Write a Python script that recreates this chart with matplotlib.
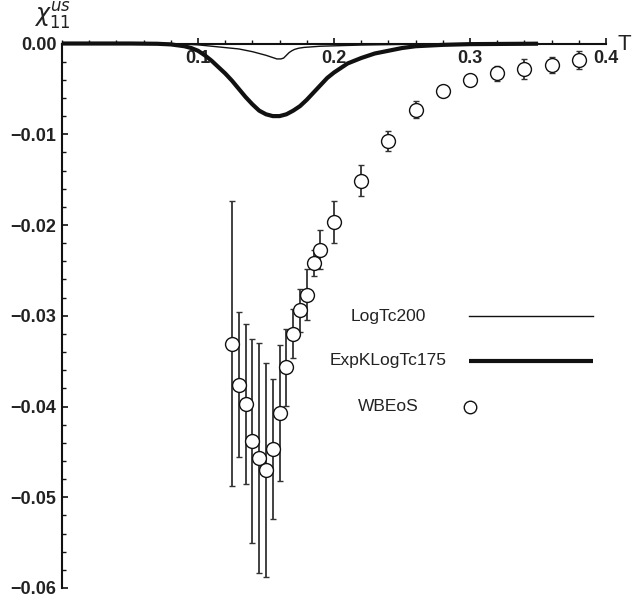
import matplotlib
matplotlib.use("Agg")
import matplotlib.pyplot as plt
from matplotlib.ticker import MultipleLocator, FixedLocator

# ---- data ----
T_log200 = [0.0, 0.08, 0.10, 0.11, 0.12, 0.13, 0.14, 0.145, 0.15, 0.155, 0.158,
            0.161, 0.163, 0.165, 0.167, 0.169, 0.171, 0.174, 0.178, 0.19, 0.22,
            0.25, 0.30, 0.35]
chi_log200 = [0.0, 0.0, -0.00015, -0.0003, -0.00045, -0.0006, -0.0009, -0.0011,
              -0.0013, -0.00155, -0.0017, -0.0017, -0.0016, -0.0013, -0.0010,
              -0.0008, -0.00065, -0.00052, -0.00043, -0.0003, -0.00017, -0.0001,
              -0.00003, 0.0]

T_expk175 = [0.0, 0.05, 0.07, 0.08, 0.09, 0.095, 0.10, 0.105, 0.11, 0.115, 0.12,
             0.125, 0.13, 0.135, 0.14, 0.145, 0.15, 0.155, 0.16, 0.165, 0.17,
             0.175, 0.18, 0.185, 0.19, 0.195, 0.20, 0.21, 0.22, 0.23, 0.24, 0.25,
             0.26, 0.28, 0.30, 0.35]
chi_expk175 = [0.0, 0.0, -0.00003, -0.0001, -0.0003, -0.0005, -0.0008, -0.0013,
               -0.0019, -0.0026, -0.0033, -0.0041, -0.0050, -0.0059, -0.0067,
               -0.0074, -0.0078, -0.0080, -0.0080, -0.0078, -0.0074, -0.0069,
               -0.0062, -0.0054, -0.0046, -0.0038, -0.0032, -0.0022, -0.0016,
               -0.0011, -0.0008, -0.0005, -0.0003, -0.00015, -0.00007, -0.00002]

T_wb = [0.125, 0.130, 0.135, 0.140, 0.145, 0.150, 0.155, 0.160, 0.165, 0.170,
        0.175, 0.180, 0.185, 0.190, 0.200, 0.220, 0.240, 0.260, 0.280, 0.300,
        0.320, 0.340, 0.360, 0.380]
chi_wb = [-0.0331, -0.0376, -0.0397, -0.0438, -0.0457, -0.0470, -0.0447, -0.0407,
          -0.0357, -0.0320, -0.0294, -0.0277, -0.0242, -0.0227, -0.0197, -0.0151,
          -0.0107, -0.0073, -0.0052, -0.0040, -0.0033, -0.0028, -0.0024, -0.0018]
err_wb = [0.0157, 0.0080, 0.0088, 0.0112, 0.0127, 0.0118, 0.0077, 0.0075,
          0.0042, 0.0027, 0.0024, 0.0028, 0.0014, 0.0021, 0.0023, 0.0017,
          0.0011, 0.00095, 0.0004, 0.0005, 0.0008, 0.0011, 0.0009, 0.0010]

xticks = [0.1, 0.2, 0.3, 0.4]
xticklabels = ["0.1", "0.2", "0.3", "0.4"]
yticks = [0.0, -0.01, -0.02, -0.03, -0.04, -0.05, -0.06]
yticklabels = ["0.00", "\u22120.01", "\u22120.02", "\u22120.03", "\u22120.04",
               "\u22120.05", "\u22120.06"]
legend_labels = ["LogTc200", "ExpKLogTc175", "WBEoS"]

plt.rcParams['font.family'] = ['Liberation Sans', 'DejaVu Sans']
txt = '#222222'

W, H = 636, 603
fig = plt.figure(figsize=(W / 100, H / 100), dpi=100)
left, right, top, bottom = 62, 606, 43.5, 588
ax = fig.add_axes([left / W, 1 - bottom / H, (right - left) / W, (bottom - top) / H])
ax.set_xlim(0, 0.4)
ax.set_ylim(-0.06, 0)

ax.spines['top'].set_visible(False)
ax.spines['right'].set_visible(False)
ax.spines['bottom'].set_position(('data', 0))
for s in ('left', 'bottom'):
    ax.spines[s].set_linewidth(1.5)
    ax.spines[s].set_color('#111111')

ax.xaxis.set_major_locator(FixedLocator(xticks))
ax.set_xticklabels(xticklabels)
ax.xaxis.set_minor_locator(MultipleLocator(0.02))
ax.yaxis.set_major_locator(FixedLocator(yticks))
ax.set_yticklabels(yticklabels)
ax.yaxis.set_minor_locator(MultipleLocator(0.002))

ax.tick_params(axis='both', which='major', direction='in', length=4.5, width=1.2,
               colors='#111111', labelsize=13, labelcolor=txt)
ax.tick_params(axis='both', which='minor', direction='in', length=2.8, width=1.0,
               colors='#111111')
ax.tick_params(axis='x', which='major', pad=5)
ax.tick_params(axis='y', which='major', pad=4)
for lab in ax.get_xticklabels() + ax.get_yticklabels():
    lab.set_fontweight('bold')

ax.plot(T_log200, chi_log200, color='#111111', lw=1.0, zorder=3, clip_on=False)
ax.plot(T_expk175, chi_expk175, color='#111111', lw=3.0, zorder=3, clip_on=False,
        solid_capstyle='butt', solid_joinstyle='round')
ax.errorbar(T_wb, chi_wb, yerr=err_wb, fmt='o', ms=10, mfc='white', mec='#111111',
            mew=1.0, ecolor='#333333', elinewidth=1.3, capsize=2.2, capthick=1.2,
            zorder=4)

# legend (manual, centred labels)
lx_text = (388 - left) / (right - left)
lx0 = (469 - left) / (right - left)
lx1 = (593 - left) / (right - left)
ys = [(bottom - y) / (bottom - top) for y in (316, 361, 406.5)]
ax.text(lx_text, ys[0], legend_labels[0], transform=ax.transAxes, ha='center',
        va='center', fontsize=12.5, color=txt)
ax.plot([lx0, lx1], [ys[0], ys[0]], transform=ax.transAxes, color='#111111', lw=1.0)
ax.text(lx_text, ys[1], legend_labels[1], transform=ax.transAxes, ha='center',
        va='center', fontsize=12.5, color=txt)
ax.plot([lx0, lx1], [ys[1], ys[1]], transform=ax.transAxes, color='#111111', lw=3.0,
        solid_capstyle='butt')
ax.text(lx_text, ys[2], legend_labels[2], transform=ax.transAxes, ha='center',
        va='center', fontsize=12.5, color=txt)
ax.plot([(470 - left) / (right - left)], [ys[2]], 'o', transform=ax.transAxes,
        ms=9.0, mfc='white', mec='#111111', mew=1.0)

# axis labels
fig.text(618 / W, 1 - 44 / H, 'T', fontsize=16, color=txt, ha='left', va='center')
fig.text(52 / W, 1 - 16 / H, r'$\chi_{11}^{us}$', fontsize=17, color=txt,
         ha='center', va='center')

fig.savefig('out.png', dpi=100)
